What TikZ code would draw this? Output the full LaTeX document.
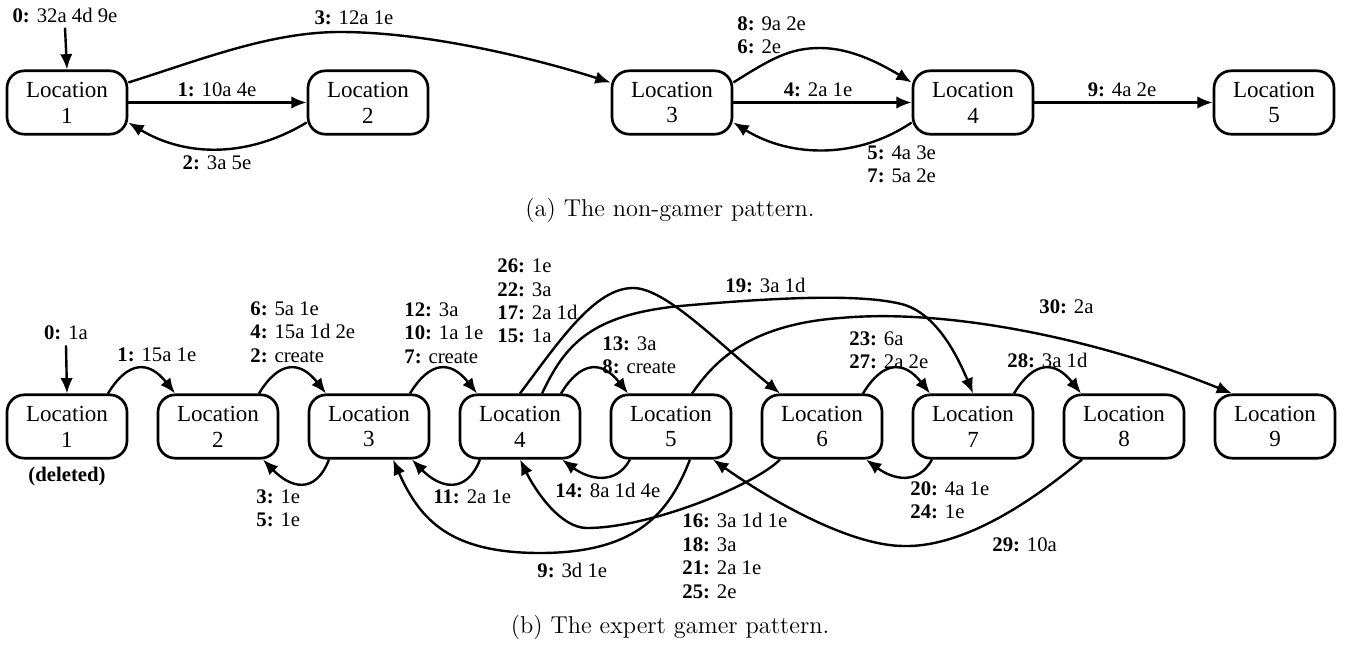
\documentclass[tikz,border=0pt]{standalone}
\usepackage{fontspec}
\newfontfamily\tnr{Liberation Serif}
\usetikzlibrary{arrows.meta,calc}

\tikzset{
	loc/.style={draw, line width=1.4pt, rounded corners=9pt, minimum width=62.5pt, minimum height=33pt, inner sep=0pt, align=center, font=\tnr\fontsize{12}{13.5}\selectfont},
	lbl/.style={inner sep=0pt, align=left, font=\tnr\fontsize{10.8}{12.2}\selectfont},
	trans/.style={line width=1.25pt, -{Latex[length=8pt,width=6.5pt]}},
	capt/.style={inner sep=0pt, font=\fontsize{12.7}{15}\selectfont},
}

\begin{document}
\begin{tikzpicture}[x=0.5208pt, y=-0.5208pt]
	\useasboundingbox (0,0) rectangle (1348,644);
	% (a) non-gamer pattern
	\node[loc] (t1) at (67,102.5) {Location\\1};
	\node[loc] (t2) at (368,102.5) {Location\\2};
	\node[loc] (t3) at (672,102.5) {Location\\3};
	\node[loc] (t4) at (973,102.5) {Location\\4};
	\node[loc] (t5) at (1274,102.5) {Location\\5};

	\node[lbl] (ta0) at (65,15) {\textbf{0:} 32a 4d 9e};
	\node[lbl] (ta1) at (217,90) {\textbf{1:} 10a 4e};
	\node[lbl] (ta2) at (217,163) {\textbf{2:} 3a 5e};
	\node[lbl] (ta3) at (354,18) {\textbf{3:} 12a 1e};
	\node[lbl] (ta4) at (818,90) {\textbf{4:} 2a 1e};
	\node[lbl, anchor=west] (ta8) at (737,35) {\textbf{8:} 9a 2e\\\textbf{6:} 2e};
	\node[lbl, anchor=west] (ta5) at (867,164) {\textbf{5:} 4a 3e\\\textbf{7:} 5a 2e};
	\node[lbl] (ta9) at (1122,90) {\textbf{9:} 4a 2e};

	\draw[trans] ($(ta0.south)+(0,5)$) -- (t1.north);
	\draw[trans] (t1) -- (t2);
	\draw[trans] ($(t2.west)+(0,20)$) .. controls +(-58,35) and +(58,35) .. ($(t1.east)+(0,20)$);
	\draw[trans] ($(t1.east)+(0,-20)$) .. controls (200,60) and (270,32) .. (340,32)
		.. controls (430,32) and (540,60) .. ($(t3.west)+(0,-20)$);
	\draw[trans] (t3) -- (t4);
	\draw[trans] ($(t3.east)+(0,-20)$) .. controls +(38,-24) and +(-30,0) .. (820,48)
		.. controls +(30,0) and +(-33,-20) .. ($(t4.west)+(0,-20)$);
	\draw[trans] ($(t4.west)+(0,20)$) .. controls +(-53,36) and +(58,36) .. ($(t3.east)+(0,20)$);
	\draw[trans] (t4) -- (t5);

	\node[capt] (capa) at (670,210) {(a) The non-gamer pattern.};

	% (b) expert gamer pattern
	\node[loc] (b1) at (67,426.5) {Location\\1};
	\node[loc] (b2) at (218,426.5) {Location\\2};
	\node[loc] (b3) at (369,426.5) {Location\\3};
	\node[loc] (b4) at (520,426.5) {Location\\4};
	\node[loc] (b5) at (671,426.5) {Location\\5};
	\node[loc] (b6) at (822,426.5) {Location\\6};
	\node[loc] (b7) at (973,426.5) {Location\\7};
	\node[loc] (b8) at (1124,426.5) {Location\\8};
	\node[loc] (b9) at (1275,426.5) {Location\\9};

	\node[lbl, font=\tnr\bfseries\fontsize{10.8}{12.2}\selectfont] (del) at (67,477) {(deleted)};

	\node[lbl] (lb0) at (66,333) {\textbf{0:} 1a};
	\node[lbl, anchor=west] (lb1) at (117,355) {\textbf{1:} 15a 1e};
	\node[lbl, anchor=west] (lb2) at (250,332) {\textbf{6:} 5a 1e\\\textbf{4:} 15a 1d 2e\\\textbf{2:} create};
	\node[lbl, anchor=west] (lb7) at (404,333) {\textbf{12:} 3a\\\textbf{10:} 1a 1e\\\textbf{7:} create};
	\node[lbl, anchor=west] (lb15) at (497,301) {\textbf{26:} 1e\\\textbf{22:} 3a\\\textbf{17:} 2a 1d\\\textbf{15:} 1a};
	\node[lbl, anchor=west] (lb8) at (602,355) {\textbf{13:} 3a\\\textbf{8:} create};
	\node[lbl, anchor=west] (lb19) at (725,285) {\textbf{19:} 3a 1d};
	\node[lbl, anchor=west] (lb23) at (849,350) {\textbf{23:} 6a\\\textbf{27:} 2a 2e};
	\node[lbl, anchor=west] (lb28) at (1007,360) {\textbf{28:} 3a 1d};
	\node[lbl, anchor=west] (lb30) at (1039,307) {\textbf{30:} 2a};
	\node[lbl, anchor=west] (lb3) at (256,508) {\textbf{3:} 1e\\\textbf{5:} 1e};
	\node[lbl, anchor=west] (lb11) at (433,497) {\textbf{11:} 2a 1e};
	\node[lbl, anchor=west] (lb14) at (555,490) {\textbf{14:} 8a 1d 4e};
	\node[lbl, anchor=west] (lb9) at (537,570) {\textbf{9:} 3d 1e};
	\node[lbl, anchor=west] (lb16) at (682,556) {\textbf{16:} 3a 1d 1e\\\textbf{18:} 3a\\\textbf{21:} 2a 1e\\\textbf{25:} 2e};
	\node[lbl, anchor=west] (lb20) at (910,500) {\textbf{20:} 4a 1e\\\textbf{24:} 1e};
	\node[lbl, anchor=west] (lb29) at (992,545) {\textbf{29:} 10a};

	\draw[trans] ($(lb0.south)+(0,5)$) -- (b1.north);
	% hops over the top
	\draw[trans] ($(b1.north)+(41,0)$) .. controls +(20,-33) and +(-26,-33) .. ($(b2.north)+(-43,0)$);
	\draw[trans] ($(b2.north)+(41,0)$) .. controls +(20,-33) and +(-26,-33) .. ($(b3.north)+(-43,0)$);
	\draw[trans] ($(b3.north)+(41,0)$) .. controls +(20,-33) and +(-26,-33) .. ($(b4.north)+(-43,0)$);
	\draw[trans] ($(b4.north)+(41,0)$) .. controls +(20,-33) and +(-26,-33) .. ($(b5.north)+(-43,0)$);
	\draw[trans] ($(b6.north)+(41,0)$) .. controls +(20,-33) and +(-26,-33) .. ($(b7.north)+(-43,0)$);
	\draw[trans] ($(b7.north)+(41,0)$) .. controls +(20,-33) and +(-26,-33) .. ($(b8.north)+(-43,0)$);
	% hops back underneath
	\draw[trans] ($(b3.south)+(-40,0)$) .. controls +(-14,36) and +(27,28) .. ($(b2.south)+(45,0)$);
	\draw[trans] ($(b4.south)+(-40,0)$) .. controls +(-14,36) and +(27,28) .. ($(b3.south)+(43,0)$);
	\draw[trans] ($(b5.south)+(-41,0)$) .. controls +(-14,26) and +(27,20) .. ($(b4.south)+(42,0)$);
	\draw[trans] ($(b7.south)+(-41,0)$) .. controls +(-14,26) and +(27,20) .. ($(b6.south)+(44,0)$);
	% long jumps
	\draw[trans] (b4.north) .. controls (560,340) and (595,288) .. (633,288)
		.. controls (665,288) and (715,340) .. ($(b6.north)+(-42,0)$);
	\draw[trans] ($(b4.north)+(22,0)$) .. controls (565,345) and (590,315) .. (680,306)
		.. controls (760,299) and (860,292) .. (905,305)
		.. controls (935,315) and (955,350) .. (b7.north);
	\draw[trans] ($(b5.north)+(21,0)$) .. controls (712,365) and (745,325) .. (840,318)
		.. controls (950,308) and (1100,340) .. ($(b9.north)+(-43,0)$);
	\draw[trans] ($(b5.south)+(19,0)$) .. controls (670,510) and (640,553) .. (540,553)
		.. controls (450,553) and (420,520) .. ($(b3.south)+(24,0)$);
	\draw[trans] ($(b6.south)+(-42,0)$) .. controls (755,485) and (650,528) .. (587,528)
		.. controls (560,528) and (535,490) .. (b4.south);
	\draw[trans] ($(b8.south)+(-42,0)$) .. controls (1010,520) and (950,547) .. (904,546)
		.. controls (850,546) and (770,500) .. ($(b5.south)+(42,0)$);

	\node[capt] (capb) at (670,627) {(b) The expert gamer pattern.};
\end{tikzpicture}
\end{document}
